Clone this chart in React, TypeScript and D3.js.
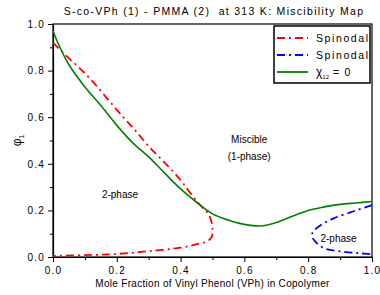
import React, { useEffect, useRef } from "react";
import * as d3 from "d3";

// green curve, chi12 = 0
const chiX = [0, 0.02, 0.05, 0.1, 0.15, 0.2, 0.25, 0.3, 0.35, 0.4, 0.45, 0.5, 0.55, 0.6, 0.65, 0.7, 0.75, 0.8, 0.85, 0.9, 0.95, 1.0];
const chiY = [0.97, 0.905, 0.825, 0.73, 0.65, 0.565, 0.49, 0.43, 0.36, 0.292, 0.235, 0.185, 0.158, 0.14, 0.133, 0.148, 0.175, 0.2, 0.215, 0.226, 0.232, 0.238];

// red spinodal (upper branch -> nose -> lower branch)
const redX = [0, 0.04, 0.08, 0.12, 0.17, 0.22, 0.26, 0.3, 0.35, 0.4, 0.43, 0.46, 0.485, 0.497, 0.5, 0.497, 0.485, 0.46, 0.4, 0.3, 0.2, 0.1, 0];
const redY = [0.92, 0.865, 0.815, 0.76, 0.68, 0.6, 0.54, 0.475, 0.405, 0.33, 0.275, 0.225, 0.188, 0.15, 0.115, 0.085, 0.068, 0.058, 0.04, 0.025, 0.013, 0.008, 0.005];

// blue spinodal
const blueX = [1.0, 0.95, 0.88, 0.84, 0.815, 0.812, 0.82, 0.85, 0.91, 0.96, 1.0];
const blueY = [0.223, 0.2, 0.166, 0.137, 0.108, 0.09, 0.07, 0.037, 0.023, 0.016, 0.012];

const xTicks = [0, 0.2, 0.4, 0.6, 0.8, 1.0];
const yTicks = [0, 0.2, 0.4, 0.6, 0.8, 1.0];

const W = 380, H = 295;
const m = { left: 53, right: 8, top: 24, bottom: 38 };
const font = "Liberation Sans, Arial, sans-serif";

export default function App() {
  const ref = useRef<SVGSVGElement>(null);

  useEffect(() => {
    const svg = d3.select(ref.current);
    svg.selectAll("*").remove();

    const x = d3.scaleLinear().domain([0, 1]).range([m.left, W - m.right]);
    const y = d3.scaleLinear().domain([0, 1]).range([H - m.bottom, m.top]);

    // axes with minor ticks
    const xMinor = d3.axisBottom(x).tickValues(d3.range(0.1, 1, 0.2)).tickSize(3).tickFormat(() => "");
    const yMinor = d3.axisLeft(y).tickValues(d3.range(0.1, 1, 0.2)).tickSize(3).tickFormat(() => "");
    const xAxis = d3.axisBottom(x).tickValues(xTicks).tickSize(5).tickSizeOuter(0).tickPadding(5).tickFormat(d3.format(".1f"));
    const yAxis = d3.axisLeft(y).tickValues(yTicks).tickSize(5).tickSizeOuter(0).tickPadding(3).tickFormat(d3.format(".1f"));

    const gx = svg.append("g").attr("transform", `translate(0,${H - m.bottom})`).call(xAxis);
    svg.append("g").attr("transform", `translate(0,${H - m.bottom})`).call(xMinor).select(".domain").remove();
    const gy = svg.append("g").attr("transform", `translate(${m.left},0)`).call(yAxis);
    svg.append("g").attr("transform", `translate(${m.left},0)`).call(yMinor).select(".domain").remove();

    [gx, gy].forEach(g => {
      g.selectAll("text").attr("font-family", font).attr("font-size", 10).attr("letter-spacing", 1.2).attr("fill", "#000");
    });
    svg.selectAll(".domain").attr("stroke", "#000").attr("stroke-width", 1.2);

    // frame
    svg.append("rect")
      .attr("x", m.left).attr("y", m.top)
      .attr("width", W - m.left - m.right).attr("height", H - m.top - m.bottom)
      .attr("fill", "none").attr("stroke", "#000").attr("stroke-width", 1.2);

    const line = d3.line<[number, number]>().x(d => x(d[0])).y(d => y(d[1])).curve(d3.curveCatmullRom);

    svg.append("path")
      .attr("d", line(redX.map((v, i) => [v, redY[i]] as [number, number])))
      .attr("fill", "none").attr("stroke", "#ff0000").attr("stroke-width", 1.8)
      .attr("stroke-dasharray", "8,4,2,4");
    svg.append("path")
      .attr("d", line(blueX.map((v, i) => [v, blueY[i]] as [number, number])))
      .attr("fill", "none").attr("stroke", "#0000ff").attr("stroke-width", 1.8)
      .attr("stroke-dasharray", "8,4,2,4");
    svg.append("path")
      .attr("d", line(chiX.map((v, i) => [v, chiY[i]] as [number, number])))
      .attr("fill", "none").attr("stroke", "#008000").attr("stroke-width", 1.6);

    // region labels
    const lab = (tx: number, ty: number, s: string) =>
      svg.append("text").attr("x", x(tx)).attr("y", y(ty)).attr("text-anchor", "middle")
        .attr("font-family", font).attr("font-size", 10).attr("fill", "#000").text(s);
    lab(0.21, 0.255, "2-phase");
    lab(0.615, 0.49, "Miscible");
    lab(0.615, 0.415, "(1-phase)");
    lab(0.895, 0.065, "2-phase");

    // title
    svg.append("text").attr("x", 214).attr("y", 15).attr("text-anchor", "middle")
      .attr("font-family", font).attr("font-size", 10.5).attr("letter-spacing", 1.3)
      .style("white-space", "pre").text("S-co-VPh (1) - PMMA (2)  at 313 K: Miscibility Map");

    // axis labels
    svg.append("text").attr("x", x(0.5)).attr("y", 287).attr("text-anchor", "middle")
      .attr("font-family", font).attr("font-size", 10).attr("letter-spacing", 0.3)
      .text("Mole Fraction of Vinyl Phenol (VPh) in Copolymer");
    const yl = svg.append("text").attr("transform", `translate(21,${y(0.5)}) rotate(-90)`).attr("text-anchor", "middle")
      .attr("font-family", font).attr("font-size", 12);
    yl.append("tspan").text("φ");
    yl.append("tspan").attr("font-size", 7).attr("dy", 3).text("1");

    // legend
    const lg = svg.append("g").attr("transform", "translate(274,26)");
    lg.append("rect").attr("width", 96).attr("height", 57).attr("fill", "#fff").attr("stroke", "#000").attr("stroke-width", 1.5);
    const items = [
      { c: "#ff0000", dash: "8,4,2,4", label: "Spinodal" },
      { c: "#0000ff", dash: "8,4,2,4", label: "Spinodal" },
      { c: "#008000", dash: null, label: "chi" },
    ];
    items.forEach((it, i) => {
      const yy = 12 + i * 17;
      lg.append("line").attr("x1", 3).attr("x2", 34).attr("y1", yy).attr("y2", yy)
        .attr("stroke", it.c).attr("stroke-width", 1.8).attr("stroke-dasharray", it.dash);
      const t = lg.append("text").attr("x", 42).attr("y", yy + 4).attr("font-family", font).attr("font-size", 10.5);
      if (it.label === "chi") {
        t.append("tspan").attr("font-size", 12).text("χ");
        t.append("tspan").attr("font-size", 6).attr("dy", 3).text("12");
        t.append("tspan").attr("dy", -3).attr("letter-spacing", 1.2).text(" = 0");
      } else {
        t.attr("letter-spacing", 1.6).text(it.label);
      }
    });
  }, []);

  return <svg ref={ref} width={W} height={H} style={{ position: "absolute", left: 0, top: 0, background: "#fff" }} />;
}
